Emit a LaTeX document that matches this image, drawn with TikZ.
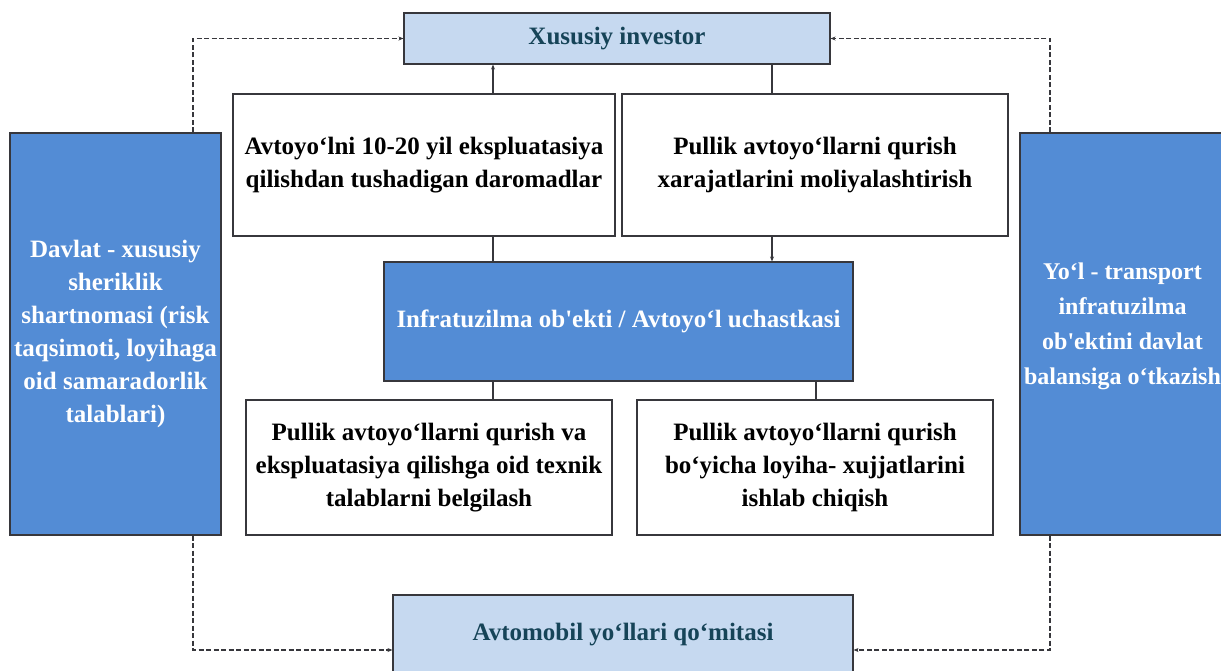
\documentclass[tikz,border=0pt]{standalone}
\usepackage{fontspec}
\setmainfont{Liberation Serif}[Ligatures=TeXOff]
\usetikzlibrary{arrows.meta}
\definecolor{bluebox}{RGB}{83,140,213}
\definecolor{lightbox}{RGB}{198,217,240}
\definecolor{darktxt}{RGB}{22,68,88}
\definecolor{edge}{RGB}{55,55,60}
\tikzset{
  base/.style={draw=edge, line width=1.1pt, align=center, inner sep=1pt, font=\fontsize{25}{33}\selectfont\bfseries},
  bluenode/.style={base, fill=bluebox, text=white},
  lightnode/.style={base, fill=lightbox, text=darktxt},
  whitenode/.style={base, fill=white, text=black},
  conn/.style={draw=edge, line width=1.1pt},
  tip/.style={-{Stealth[length=5pt,width=4pt]}},
  dconn/.style={draw=edge, line width=1.1pt, dash pattern=on 5pt off 2.5pt}
}
\begin{document}
\begin{tikzpicture}[x=1pt,y=-1pt]
\useasboundingbox (0,0) rectangle (1221,670);
\clip (0,0) rectangle (1221,670);
\node[lightnode, minimum width=426pt, minimum height=51pt] (inv) at (617,38.5) {Xususiy investor};
\node[bluenode, minimum width=211pt, minimum height=402pt] (left) at (115.5,334) {Davlat - xususiy\\sheriklik\\shartnomasi (risk\\taqsimoti, loyihaga\\oid samaradorlik\\talablari)};
\node[bluenode, minimum width=215pt, minimum height=402pt] (right) at (1127.5,334) {};
\node[align=center, text=white, inner sep=0pt, font=\fontsize{24}{35}\selectfont\bfseries] (righttxt) at ([xshift=-5pt,yshift=8pt]right.center) {Yo‘l - transport\\infratuzilma\\ob'ektini davlat\\balansiga o‘tkazish};
\node[whitenode, minimum width=382pt, minimum height=142pt] (b1) at (424,165) {Avtoyo‘lni 10-20 yil ekspluatasiya\\qilishdan tushadigan daromadlar};
\node[whitenode, minimum width=386pt, minimum height=142pt] (b2) at (815,165) {Pullik avtoyo‘llarni qurish\\xarajatlarini moliyalashtirish};
\node[bluenode, minimum width=469pt, minimum height=119pt] (c) at (618.5,321.5) {Infratuzilma ob'ekti / Avtoyo‘l uchastkasi};
\node[whitenode, minimum width=366pt, minimum height=135pt] (b3) at (429,467.5) {Pullik avtoyo‘llarni qurish va\\ekspluatasiya qilishga oid texnik\\talablarni belgilash};
\node[whitenode, minimum width=356pt, minimum height=135pt] (b4) at (815,467.5) {Pullik avtoyo‘llarni qurish\\bo‘yicha loyiha- xujjatlarini\\ishlab chiqish};
\node[lightnode, minimum width=460pt, minimum height=80pt] (bot) at (623,635) {Avtomobil yo‘llari qo‘mitasi};
\coordinate (xA) at (493,0);
\coordinate (xB) at (772,0);
\coordinate (xC) at (816,0);
\coordinate (xL) at (193,0);
\coordinate (xR) at (1050,0);
\coordinate (yB) at (0,650);
\draw[conn,tip] (b1.north -| xA) -- (inv.south -| xA);
\draw[conn] (inv.south -| xB) -- (b2.north -| xB);
\draw[conn] (b1.south -| xA) -- (c.north -| xA);
\draw[conn,tip] (b2.south -| xB) -- (c.north -| xB);
\draw[conn] (c.south -| xA) -- (b3.north -| xA);
\draw[conn] (c.south -| xC) -- (b4.north -| xC);
\draw[dconn,tip] (left.north -| xL) |- (inv.west);
\draw[dconn,tip] (right.north -| xR) |- (inv.east);
\draw[dconn,tip] (left.south -| xL) |- (bot.west |- yB);
\draw[dconn,tip] (right.south -| xR) |- (bot.east |- yB);
\end{tikzpicture}
\end{document}
